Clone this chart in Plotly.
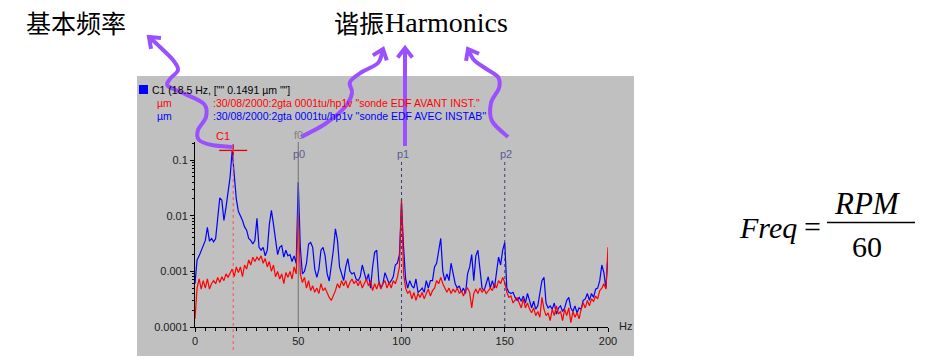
import math
import plotly.graph_objects as go

# ---------------- data ----------------
freq_hz = list(range(0, 201))

amp_avec_instab = [  # blue, "sonde EDF AVEC INSTAB" (um)
    0.0006, 0.0016, 0.0019, 0.0024, 0.0031, 0.0036, 0.0062, 0.0035, 0.0039, 0.0034,
    0.0039, 0.008, 0.021, 0.019, 0.0082, 0.014, 0.029, 0.05, 0.149, 0.06,
    0.02, 0.012, 0.01, 0.0082, 0.0063, 0.0055, 0.0039, 0.0036, 0.0031, 0.0036,
    0.009, 0.0027, 0.0024, 0.0027, 0.0019, 0.0024, 0.007, 0.0125, 0.007, 0.0039,
    0.002, 0.0027, 0.0029, 0.0018, 0.0024, 0.0019, 0.002, 0.0015, 0.0019, 0.0014,
    0.04, 0.0027, 0.0009, 0.001, 0.0014, 0.0031, 0.0033, 0.0027, 0.0011, 0.00078,
    0.0011, 0.0024, 0.0027, 0.0019, 0.0009, 0.00067, 0.0012, 0.0024, 0.0058, 0.0036,
    0.0012, 0.0009, 0.00068, 0.0012, 0.0017, 0.001, 0.0009, 0.00095, 0.00073, 0.00068,
    0.0008, 0.0013, 0.0009, 0.00068, 0.0009, 0.0005, 0.0012, 0.0022, 0.0024, 0.00068,
    0.0005, 0.0006, 0.00095, 0.00078, 0.0006, 0.00068, 0.0008, 0.0013, 0.0014, 0.002,
    0.017, 0.0027, 0.00073, 0.0005, 0.00068, 0.00055, 0.0005, 0.00073, 0.00042, 0.00045,
    0.0005, 0.00042, 0.00068, 0.0005, 0.00068, 0.00068, 0.0012, 0.0014, 0.0024, 0.0039,
    0.001, 0.00068, 0.0009, 0.00068, 0.0014, 0.0009, 0.0006, 0.0005, 0.00055, 0.00042,
    0.0005, 0.0004, 0.0009, 0.0012, 0.002, 0.00068, 0.0019, 0.0024, 0.001, 0.0005,
    0.00045, 0.0006, 0.0008, 0.0005, 0.00068, 0.0005, 0.001, 0.0018, 0.0013, 0.0024,
    0.0033, 0.0005, 0.00042, 0.0004, 0.00042, 0.00034, 0.0003, 0.00034, 0.00029, 0.00036,
    0.00027, 0.0004, 0.0003, 0.00022, 0.00029, 0.00021, 0.00024, 0.0004, 0.00068, 0.00078,
    0.00027, 0.00022, 0.00024, 0.00021, 0.00027, 0.00017, 0.00022, 0.00024, 0.00019, 0.00022,
    0.0003, 0.00034, 0.00022, 0.00019, 0.00024, 0.00018, 0.00022, 0.00021, 0.0003, 0.00032,
    0.0004, 0.0003, 0.0004, 0.00034, 0.00048, 0.0005, 0.00068, 0.0013, 0.00095, 0.0005,
    0.002,
]

amp_avant_inst = [  # red, "sonde EDF AVANT INST." (um)
    0.00014, 0.0005, 0.00073, 0.00048, 0.00068, 0.0005, 0.00073, 0.00048, 0.0006, 0.00068,
    0.0006, 0.00078, 0.00063, 0.0008, 0.00068, 0.0009, 0.00078, 0.00095, 0.0011, 0.0008,
    0.0012, 0.00095, 0.0012, 0.0008, 0.0013, 0.0011, 0.0016, 0.0013, 0.0018, 0.0015,
    0.0018, 0.0016, 0.0019, 0.0014, 0.0017, 0.0012, 0.0015, 0.001, 0.0013, 0.0008,
    0.001, 0.00073, 0.0009, 0.0006, 0.00095, 0.00078, 0.001, 0.00073, 0.0012, 0.0009,
    0.011, 0.0009, 0.00063, 0.00078, 0.0005, 0.00068, 0.00045, 0.00055, 0.00042, 0.0005,
    0.0004, 0.0006, 0.00045, 0.0005, 0.0004, 0.00034, 0.0003, 0.00036, 0.00045, 0.0006,
    0.0005, 0.00068, 0.00055, 0.00068, 0.0005, 0.00063, 0.00073, 0.0006, 0.00068, 0.00055,
    0.00068, 0.0005, 0.00063, 0.00073, 0.00055, 0.00068, 0.00045, 0.0006, 0.00048, 0.00063,
    0.00048, 0.0006, 0.00068, 0.0005, 0.00063, 0.0005, 0.00068, 0.0006, 0.00078, 0.0012,
    0.02, 0.0009, 0.0005, 0.0004, 0.00045, 0.00032, 0.00042, 0.0003, 0.0004, 0.00034,
    0.00042, 0.00032, 0.0004, 0.00048, 0.00036, 0.00045, 0.0005, 0.00068, 0.0006, 0.00078,
    0.0006, 0.0005, 0.00042, 0.0005, 0.0004, 0.00048, 0.00042, 0.0005, 0.0004, 0.00045,
    0.00036, 0.00045, 0.0005, 0.00042, 0.00022, 0.0004, 0.00048, 0.0004, 0.0005, 0.00042,
    0.00048, 0.0004, 0.00045, 0.0005, 0.00045, 0.0006, 0.0005, 0.00068, 0.0006, 0.00078,
    0.00063, 0.00042, 0.00034, 0.00036, 0.00027, 0.0003, 0.00034, 0.00027, 0.00022, 0.00032,
    0.00022, 0.00027, 0.00021, 0.00018, 0.00022, 0.00016, 0.00019, 0.00015, 0.00034, 0.00021,
    0.00016, 0.00018, 0.00013, 0.00021, 0.00016, 0.00024, 0.00017, 0.00019, 0.00013, 0.00021,
    0.00016, 0.00022, 0.00012, 0.00019, 0.00015, 0.00018, 0.00014, 0.00021, 0.00027, 0.00022,
    0.0003, 0.00024, 0.00032, 0.00029, 0.00036, 0.00032, 0.00045, 0.0005, 0.0006, 0.00048,
    0.0027,
]

cursor_c1_hz = 18.5
cursor_c1_amp = 0.1491
harmonic_hz = [50, 100, 150]
harmonic_labels = ["p0", "p1", "p2"]
y_tick_vals = [0.0001, 0.001, 0.01, 0.1]
y_tick_text = ["0.0001", "0.001", "0.01", "0.1"]
x_tick_vals = [0, 50, 100, 150, 200]
x_tick_text = ["0", "50", "100", "150", "200"]

# ---------------- geometry helpers ----------------
W, H = 940, 361
ML, MR, MT, MB = 195, 332, 142, 34
PW = W - ML - MR
PH = H - MT - MB


def px(x):
    return (x - ML) / PW


def py(y):
    return (H - MB - y) / PH


PURPLE = "#9A50FF"
GRAY = "#C0C0C0"

fig = go.Figure()

fig.add_trace(go.Scatter(x=freq_hz, y=amp_avec_instab, mode="lines",
                         line=dict(color="#0000FF", width=1.2), hoverinfo="skip"))
fig.add_trace(go.Scatter(x=freq_hz, y=amp_avant_inst, mode="lines",
                         line=dict(color="#FF0000", width=1.2), hoverinfo="skip"))
# cursor cross at C1
fig.add_trace(go.Scatter(x=[cursor_c1_hz], y=[cursor_c1_amp], mode="markers",
                         marker=dict(symbol="line-ew", size=20,
                                     line=dict(color="#E00000", width=1.3)),
                         hoverinfo="skip"))
fig.add_trace(go.Scatter(x=[cursor_c1_hz], y=[cursor_c1_amp], mode="markers",
                         marker=dict(symbol="line-ns", size=9,
                                     line=dict(color="#E00000", width=1.3)),
                         hoverinfo="skip"))

shapes = []
# gray panel
shapes.append(dict(type="rect", xref="paper", yref="paper", layer="below",
                   x0=px(137), x1=px(634), y0=py(356), y1=py(76),
                   fillcolor=GRAY, line=dict(width=0)))
# legend square
shapes.append(dict(type="rect", xref="paper", yref="paper",
                   x0=px(139), x1=px(148), y0=py(94), y1=py(85),
                   fillcolor="#0000FF", line=dict(width=0)))
# cursor lines
shapes.append(dict(type="line", xref="x", yref="paper", x0=cursor_c1_hz, x1=cursor_c1_hz,
                   y0=py(350), y1=py(146), line=dict(color="#FF5050", width=1, dash="dot")))
shapes.append(dict(type="line", xref="x", yref="paper", x0=harmonic_hz[0], x1=harmonic_hz[0],
                   y0=0, y1=py(142), line=dict(color="#707070", width=1)))
for f in harmonic_hz[1:]:
    shapes.append(dict(type="line", xref="x", yref="paper", x0=f, x1=f,
                       y0=0, y1=py(161), line=dict(color="#3C3C78", width=1, dash="dot")))
# fraction bar of formula
shapes.append(dict(type="line", xref="paper", yref="paper", x0=px(827), x1=px(915),
                   y0=py(222.5), y1=py(222.5), line=dict(color="black", width=1.5)))


def curve_path(pts):
    p = [pts[0]] + pts + [pts[-1]]
    d = "M %.5f,%.5f" % (px(pts[0][0]), py(pts[0][1]))
    for i in range(1, len(p) - 2):
        p0, p1, p2, p3 = p[i - 1], p[i], p[i + 1], p[i + 2]
        c1 = (p1[0] + (p2[0] - p0[0]) / 6, p1[1] + (p2[1] - p0[1]) / 6)
        c2 = (p2[0] - (p3[0] - p1[0]) / 6, p2[1] - (p3[1] - p1[1]) / 6)
        d += " C %.5f,%.5f %.5f,%.5f %.5f,%.5f" % (px(c1[0]), py(c1[1]), px(c2[0]), py(c2[1]),
                                                   px(p2[0]), py(p2[1]))
    return d


def head_path(prev, tip, length=12, ang=38):
    dx, dy = tip[0] - prev[0], tip[1] - prev[1]
    n = math.hypot(dx, dy)
    ux, uy = dx / n, dy / n
    pts = []
    for s in (-1, 1):
        a = math.radians(ang * s)
        bx = -(ux * math.cos(a) - uy * math.sin(a))
        by = -(ux * math.sin(a) + uy * math.cos(a))
        pts.append((tip[0] + bx * length, tip[1] + by * length))
    return "M %.5f,%.5f L %.5f,%.5f L %.5f,%.5f" % (px(pts[0][0]), py(pts[0][1]),
                                                   px(tip[0]), py(tip[1]),
                                                   px(pts[1][0]), py(pts[1][1]))


arrows = [
    [(233, 147), (212, 145), (199, 140), (198, 130), (206, 117), (204, 104), (185, 94),
     (168, 86), (170, 79), (178, 70), (173, 60), (160, 47), (149, 37)],
    [(301, 137), (325, 124), (345, 107), (352, 93), (350, 82), (362, 72), (378, 63), (383, 49)],
    [(405, 146), (405, 48)],
    [(508, 137), (492, 121), (491, 103), (499, 88), (498, 77), (485, 68), (474, 60), (468, 49)],
]
for a in arrows:
    shapes.append(dict(type="path", xref="paper", yref="paper", path=curve_path(a),
                       line=dict(color=PURPLE, width=4)))
    shapes.append(dict(type="path", xref="paper", yref="paper", path=head_path(a[-2], a[-1]),
                       line=dict(color=PURPLE, width=4)))

SANS = "Liberation Sans, Arial, sans-serif"
SERIF = "Liberation Serif, Times New Roman, serif"
CJK = "Noto Sans CJK SC, sans-serif"

ann = []


def text(x, y, s, size=11, color="black", family=SANS, xanchor="left", italic=False):
    ann.append(dict(xref="paper", yref="paper", x=px(x), y=py(y), text=s, showarrow=False,
                    xanchor=xanchor, yanchor="middle",
                    font=dict(size=size, color=color, family=family,
                              style="italic" if italic else "normal")))


text(150, 89.5, 'C1 (18.5 Hz, ["" 0.1491 µm ""]', size=10.5)
text(155, 102.5, "µm", size=10.5, color="#FF0000")
text(211, 102.5, ':30/08/2000:2gta 0001tu/hp1v "sonde EDF AVANT INST."', size=10.5, color="#FF0000")
text(155, 116, "µm", size=10.5, color="#0000FF")
text(211, 116, ":30/08/2000:2gta 0001tu/hp1v ''sonde EDF AVEC INSTAB''", size=10.5, color="#0000FF")
text(617, 326, "Hz", size=11, color="#202020")

# titles
text(76, 22, "基本频率", size=25, family=CJK, xanchor="center")
text(386, 22, "谐振", size=25, family=CJK, xanchor="right")
text(383, 22, "Harmonics", size=28, family=SERIF, xanchor="left")

# formula
text(768, 227, "Freq", size=30, family=SERIF, xanchor="center", italic=True)
text(812, 226, "=", size=30, family=SERIF, xanchor="center")
text(867, 203, "RPM", size=31, family=SERIF, xanchor="center", italic=True)
text(867, 246, "60", size=30, family=SERIF, xanchor="center")

# cursor labels
ann.append(dict(xref="x", yref="paper", x=cursor_c1_hz, y=py(136), text="C1", showarrow=False,
                xshift=-10, yanchor="middle", font=dict(size=11, color="#FF0000", family=SANS)))
ann.append(dict(xref="x", yref="paper", x=harmonic_hz[0], y=py(135), text="f0", showarrow=False,
                yanchor="middle", font=dict(size=11, color="#808080", family=SANS)))
for f, lab in zip(harmonic_hz, harmonic_labels):
    ann.append(dict(xref="x", yref="paper", x=f, y=py(154), text=lab, showarrow=False,
                    xshift=1, yanchor="middle", font=dict(size=11, color="#5C5C90", family=SANS)))

minor_y = [m * 10 ** e for e in (-4, -3, -2, -1) for m in range(2, 10) if m * 10 ** e < 0.21]
minor_x = [v for v in range(0, 201, 5) if v % 50 != 0]

fig.update_layout(
    width=W, height=H,
    margin=dict(l=ML, r=MR, t=MT, b=MB, pad=0),
    paper_bgcolor="white",
    plot_bgcolor="rgba(0,0,0,0)",
    showlegend=False,
    shapes=shapes,
    annotations=ann,
    xaxis=dict(range=[0, 200], showgrid=False, zeroline=False, showline=True,
               linecolor="black", linewidth=1, ticks="outside", ticklen=4, tickcolor="black",
               tickvals=x_tick_vals, ticktext=x_tick_text,
               tickfont=dict(size=11, color="#202020", family=SANS),
               minor=dict(tickvals=minor_x, ticks="outside", ticklen=3, tickcolor="black")),
    yaxis=dict(type="log", range=[-4, -0.675], showgrid=False, zeroline=False, showline=True,
               linecolor="black", linewidth=1, ticks="outside", ticklen=4, tickcolor="black",
               tickvals=y_tick_vals, ticktext=y_tick_text,
               tickfont=dict(size=11, color="#202020", family=SANS),
               minor=dict(tickvals=minor_y, ticks="outside", ticklen=2, tickcolor="black")),
)

fig.write_html("out.html", config={"displayModeBar": False},
               post_script="document.body.style.margin='0';")
